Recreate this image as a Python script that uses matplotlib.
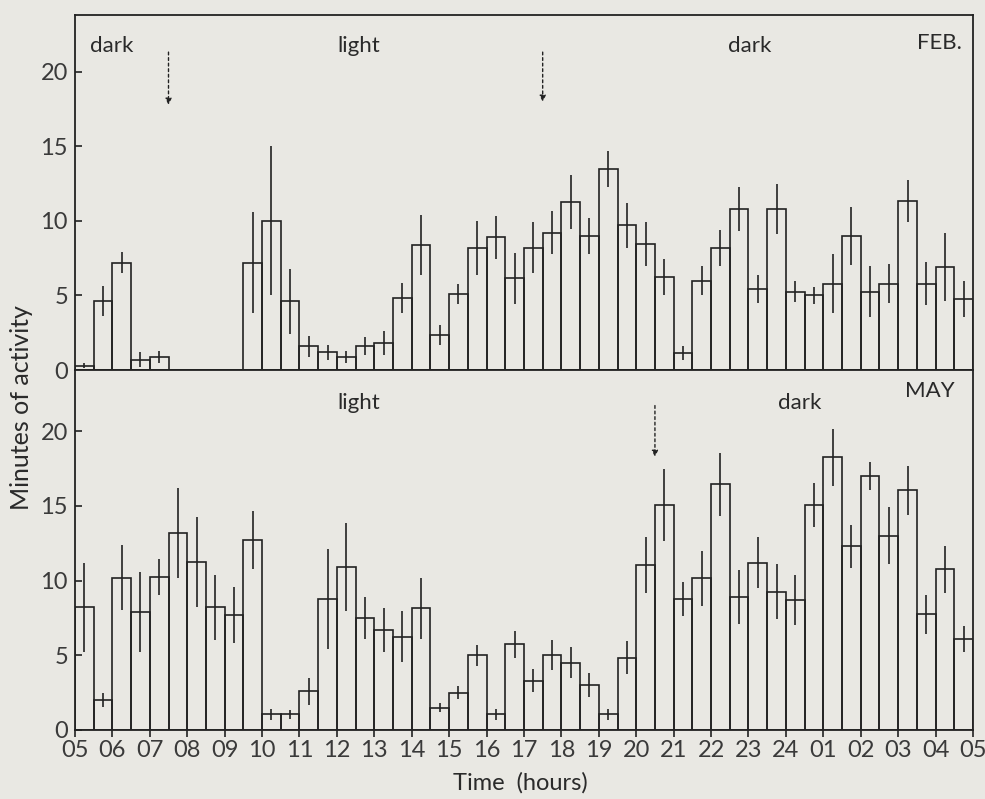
import numpy as np
import matplotlib.pyplot as plt

# half-hour bins starting at 05:00, 48 bins per panel
hour_labels = ['05', '06', '07', '08', '09', '10', '11', '12', '13', '14', '15', '16',
               '17', '18', '19', '20', '21', '22', '23', '24', '01', '02', '03', '04', '05']

feb_mean = [0.3, 4.6, 7.2, 0.7, 0.9, 0, 0, 0, 0, 7.2, 10.0, 4.6,
            1.6, 1.2, 0.9, 1.6, 1.8, 4.85, 8.4, 2.35, 5.1, 8.2, 8.9, 6.15,
            8.2, 9.2, 11.25, 9.0, 13.5, 9.7, 8.45, 6.25, 1.15, 6.0, 8.2, 10.8,
            5.45, 10.8, 5.25, 5.0, 5.8, 9.0, 5.25, 5.8, 11.35, 5.8, 6.9, 4.75]
feb_err = [0.15, 1.0, 0.7, 0.5, 0.4, 0, 0, 0, 0, 3.4, 5.0, 2.2,
           0.7, 0.5, 0.4, 0.6, 0.8, 1.0, 2.0, 0.7, 0.7, 1.8, 1.45, 1.7,
           1.7, 1.45, 1.8, 1.2, 1.2, 1.5, 1.5, 1.2, 0.45, 0.95, 1.2, 1.45,
           0.95, 1.7, 0.7, 0.55, 1.95, 1.95, 1.7, 1.3, 1.4, 1.45, 2.3, 1.2]

may_mean = [8.2, 2.0, 10.2, 7.9, 10.25, 13.2, 11.25, 8.2, 7.7, 12.7, 1.05, 1.05,
            2.6, 8.75, 10.9, 7.5, 6.7, 6.25, 8.15, 1.5, 2.5, 5.0, 1.05, 5.75,
            3.3, 5.0, 4.5, 3.0, 1.05, 4.85, 11.05, 15.05, 8.75, 10.15, 16.45, 8.9,
            11.2, 9.25, 8.7, 15.05, 18.25, 12.3, 17.0, 13.0, 16.05, 7.75, 10.75, 6.1]
may_err = [3.0, 0.45, 2.2, 2.65, 1.2, 3.0, 3.0, 2.15, 1.9, 1.95, 0.35, 0.3,
           0.9, 3.35, 2.95, 1.4, 1.45, 1.7, 2.05, 0.3, 0.45, 0.7, 0.35, 0.9,
           0.75, 1.0, 1.05, 0.8, 0.35, 1.1, 1.9, 2.4, 1.15, 1.85, 2.1, 1.8,
           1.7, 1.85, 1.65, 1.45, 1.9, 1.45, 0.95, 1.9, 1.65, 1.3, 1.55, 0.85]

paper = '#e9e8e3'
ink = '#222222'
plt.rcParams['font.family'] = ['Lato', 'DejaVu Sans']

fig = plt.figure(figsize=(9.85, 7.99), dpi=100, facecolor=paper)
ax1 = fig.add_axes([0.0761, 0.5369, 0.9117, 0.4443], facecolor=paper)
ax2 = fig.add_axes([0.0761, 0.0864, 0.9117, 0.4506], facecolor=paper)

x = np.arange(48) * 0.5 + 0.25

def panel(ax, mean, err, top):
    ax.bar(x, mean, width=0.5, facecolor='none', edgecolor=ink, linewidth=1.2)
    ax.errorbar(x, mean, yerr=err, fmt='none', ecolor=ink, elinewidth=1.2, capsize=0)
    ax.set_xlim(0, 24)
    ax.set_ylim(0, top)
    ax.set_yticks([0, 5, 10, 15, 20])
    ax.tick_params(axis='y', direction='in', length=5, width=1.2, labelsize=17,
                   labelcolor='#3a3a3a', colors=ink, pad=5)
    for s in ax.spines.values():
        s.set_color(ink)
        s.set_linewidth(1.3)

panel(ax1, feb_mean, feb_err, 23.8)
panel(ax2, may_mean, may_err, 24.1)

ax1.set_xticks([])
ax2.set_xticks(np.arange(0, 24.5, 1))
ax2.set_xticklabels(hour_labels)
ax2.tick_params(axis='x', direction='out', length=5, width=1.2, labelsize=17,
                labelcolor='#3a3a3a', colors=ink, pad=2)

# light / dark annotations
txt = '#2a2a2a'
ax1.text(0.4, 21.7, 'dark', fontsize=16, color=txt, va='center')
ax1.text(7.0, 21.7, 'light', fontsize=16, color=txt, va='center')
ax1.text(17.45, 21.7, 'dark', fontsize=16, color=txt, va='center')
ax1.text(23.7, 21.9, 'FEB.', fontsize=16, color=txt, ha='right', va='center')
ax2.text(7.0, 21.9, 'light', fontsize=16, color=txt, va='center')
ax2.text(18.8, 21.9, 'dark', fontsize=16, color=txt, va='center')
ax2.text(23.5, 22.7, 'MAY', fontsize=16, color=txt, ha='right', va='center')

# dotted arrows marking lights on / off
for ax, xa, y0, y1 in [(ax1, 2.5, 21.5, 17.6), (ax1, 12.5, 21.5, 17.8), (ax2, 15.5, 21.9, 18.1)]:
    ax.annotate('', xy=(xa, y1), xytext=(xa, y0),
                arrowprops=dict(arrowstyle='-|>', linestyle=(0, (2, 2)), color=ink,
                                lw=1.0, mutation_scale=9))

fig.text(0.022, 0.49, 'Minutes of activity', rotation=90, fontsize=18, color=txt,
         ha='center', va='center')
fig.text(0.528, 0.012, 'Time  (hours)', fontsize=17, color=txt, ha='center')

fig.savefig('out.png', dpi=100, facecolor=paper)
